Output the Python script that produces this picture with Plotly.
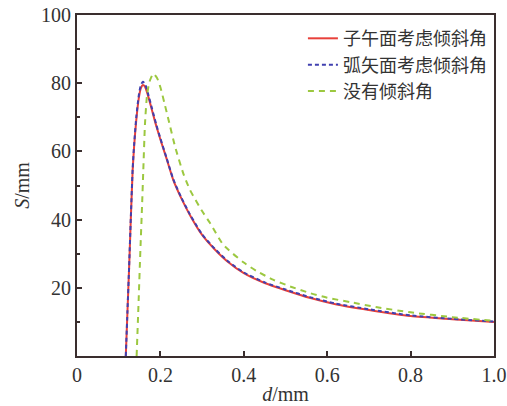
import plotly.graph_objects as go

# Data
d_meridional = [0.117, 0.121, 0.125, 0.129, 0.1335, 0.137, 0.142, 0.148, 0.153, 0.158, 0.163, 0.170, 0.180, 0.190, 0.200,
                0.215, 0.231, 0.250, 0.271, 0.300, 0.330, 0.360, 0.400, 0.450, 0.500, 0.560, 0.620, 0.700, 0.800, 0.900, 1.000]
s_meridional = [0, 13, 26, 40, 54.5, 61.5, 69, 75.5, 78.5, 79.5, 79.0, 76.5, 72, 67.5, 63.5,
                57.8, 51.6, 46.3, 41.3, 35.5, 31.3, 27.8, 24.3, 21.4, 19.3, 17.0, 15.2, 13.5, 11.7, 10.8, 10.0]

d_sagittal = [0.117, 0.121, 0.125, 0.129, 0.1335, 0.137, 0.142, 0.148, 0.153, 0.158, 0.163, 0.170, 0.180, 0.190, 0.200,
              0.215, 0.231, 0.250, 0.271, 0.300, 0.330, 0.360, 0.400, 0.450, 0.500, 0.560, 0.620, 0.700, 0.800, 0.900, 1.000]
s_sagittal = [0, 13.2, 26.3, 40.4, 55, 62, 69.8, 76.3, 79.4, 80.4, 79.8, 77.1, 72.5, 67.9, 63.8,
              58.0, 51.8, 46.5, 41.5, 35.7, 31.5, 28.0, 24.5, 21.6, 19.5, 17.2, 15.4, 13.7, 11.9, 10.9, 10.1]

d_notilt = [0.143, 0.148, 0.152, 0.156, 0.159, 0.163, 0.168, 0.174, 0.183, 0.192, 0.200, 0.210, 0.220, 0.235, 0.255,
            0.271, 0.300, 0.319, 0.351, 0.400, 0.431, 0.470, 0.511, 0.560, 0.600, 0.655, 0.720, 0.800, 0.900, 1.000]
s_notilt = [0, 17, 31, 44, 54.5, 68, 76.5, 80.5, 82.8, 81.5, 78.8, 74, 69, 61.5, 53.5,
            48.7, 42.5, 39, 32.6, 27.4, 24.9, 22.4, 20.4, 18.4, 17.1, 15.8, 14.3, 12.8, 11.4, 10.3]

names = ["子午面考虑倾斜角", "弧矢面考虑倾斜角", "没有倾斜角"]
x_ticks = [0, 0.2, 0.4, 0.6, 0.8, 1.0]
x_ticktext = ["0", "0.2", "0.4", "0.6", "0.8", "1.0"]
y_ticks = [20, 40, 60, 80, 100]

fig = go.Figure()
fig.add_trace(go.Scatter(x=d_meridional, y=s_meridional, mode="lines", name=names[0],
                         line=dict(color="#e8403a", width=2, shape="spline", smoothing=0.6)))
fig.add_trace(go.Scatter(x=d_sagittal, y=s_sagittal, mode="lines", name=names[1],
                         line=dict(color="#4040b0", width=2, dash="4px,3px", shape="spline", smoothing=0.6)))
fig.add_trace(go.Scatter(x=d_notilt, y=s_notilt, mode="lines", name=names[2],
                         line=dict(color="#9cc840", width=2, dash="6px,5px", shape="spline", smoothing=0.6)))

serif = "Liberation Serif, Times New Roman, serif"
axis_common = dict(showgrid=False, zeroline=False, showline=True, linecolor="#3a2e2e", linewidth=2,
                   mirror=True, ticks="inside", tickcolor="#3a2e2e", ticklen=5, tickwidth=1.5,
                   automargin=False,
                   tickfont=dict(family=serif, size=20, color="#333333"))

fig.update_layout(
    width=507, height=406,
    margin=dict(l=77, r=13, t=15, b=50),
    paper_bgcolor="white", plot_bgcolor="white",
    xaxis=dict(range=[0, 1.0], tickvals=x_ticks, ticktext=x_ticktext,
               title=dict(text="<i>d</i>/mm", font=dict(family=serif, size=20, color="#333333"), standoff=2),
               **axis_common),
    yaxis=dict(range=[0, 100], tickvals=y_ticks,
               minor=dict(ticks="inside", tickvals=[10, 30, 50, 70, 90], ticklen=3, tickcolor="#3a2e2e"),
               title=dict(text="<i>S</i>/mm", font=dict(family=serif, size=20, color="#333333"), standoff=6),
               **axis_common),
    legend=dict(x=0.995, xanchor="right", y=0.985, yanchor="top", bgcolor="rgba(0,0,0,0)",
                font=dict(family="Noto Sans CJK SC", size=18, color="#333333"),
                tracegroupgap=0, itemwidth=30),
    showlegend=True,
)

fig.write_html("out.html")
